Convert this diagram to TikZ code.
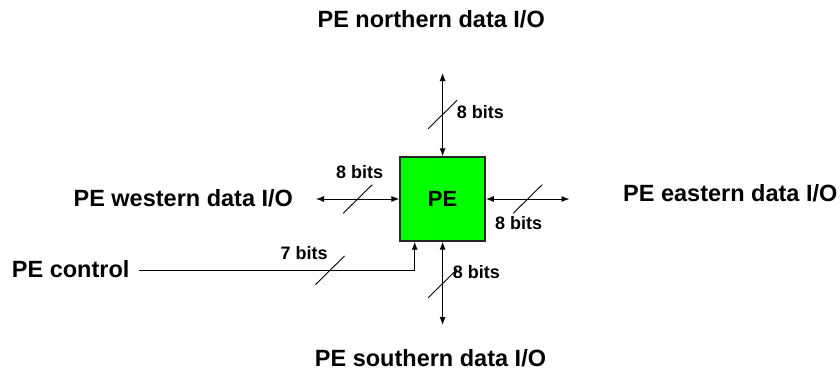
\documentclass[tikz,border=0pt]{standalone}
\usepackage{fontspec}
\setmainfont{Liberation Sans}
\usetikzlibrary{arrows.meta,calc}
\begin{document}
\begin{tikzpicture}[x=1pt,y=-1pt,
  lbl/.style={inner sep=0pt,font=\bfseries\fontsize{23.5}{28}\selectfont},
  bits/.style={inner sep=0pt,anchor=base west,font=\bfseries\fontsize{18}{22}\selectfont},
  bus/.style={line width=1pt,{Latex[length=8pt,width=6pt]}-{Latex[length=8pt,width=6pt]}},
  ctl/.style={line width=1pt,-{Latex[length=8pt,width=6pt]}},
  slash/.style={line width=0.9pt},
  pebox/.style={draw=black!85,line width=1.4pt,fill={rgb,255:red,0;green,255;blue,0},minimum width=85pt,minimum height=84pt,inner sep=0pt,font=\bfseries\fontsize{22}{26}\selectfont}]
\useasboundingbox (0,0) rectangle (840,372);
% PE box
\node[pebox] (pe) at (442.6,199) {PE};
% outer labels
\node[lbl,anchor=base] (north) at (431.2,27.3) {PE northern data I/O};
\node[lbl,anchor=base] (south) at (430.5,366.7) {PE southern data I/O};
\node[lbl,anchor=base] (west) at (183.3,206.7) {PE western data I/O};
\node[lbl,anchor=base] (east) at (730.3,201.7) {PE eastern data I/O};
\node[lbl,anchor=base west] (ctlname) at (11.7,277.5) {PE control};
% arrow end points
\coordinate (nend) at (442.6,73);
\coordinate (send) at (442.6,325);
\coordinate (wend) at (316,199);
\coordinate (eend) at (569.5,199);
\coordinate (cstart) at (139.3,270.3);
\coordinate (ccorner) at (414.7,270.3);
% buses
\draw[bus] (nend) -- (pe.north -| nend);
\draw[bus] (pe.south -| send) -- (send);
\draw[bus] (wend) -- (pe.west |- wend);
\draw[bus] (pe.east |- eend) -- (eend);
\draw[ctl] (cstart) -- (ccorner) -- (ccorner |- pe.south);
% slashes
\coordinate (ns) at (442.6,114.5);
\coordinate (ss) at (442.6,283.5);
\coordinate (ws) at (357.7,199);
\coordinate (es) at (527.7,199);
\coordinate (cs) at (330,270.3);
\foreach \c in {ns,ss,ws,es,cs}
  \draw[slash] ($(\c)+(-14.5,14.3)$) -- ($(\c)+(14.5,-14.3)$);
% bit labels
\node[bits] (nbits) at (456.7,118.5) {8 bits};
\node[bits] (wbits) at (336,178) {8 bits};
\node[bits] (ebits) at (495,229) {8 bits};
\node[bits] (sbits) at (452.7,278) {8 bits};
\node[bits] (cbits) at (280.4,259) {7 bits};
\end{tikzpicture}
\end{document}
